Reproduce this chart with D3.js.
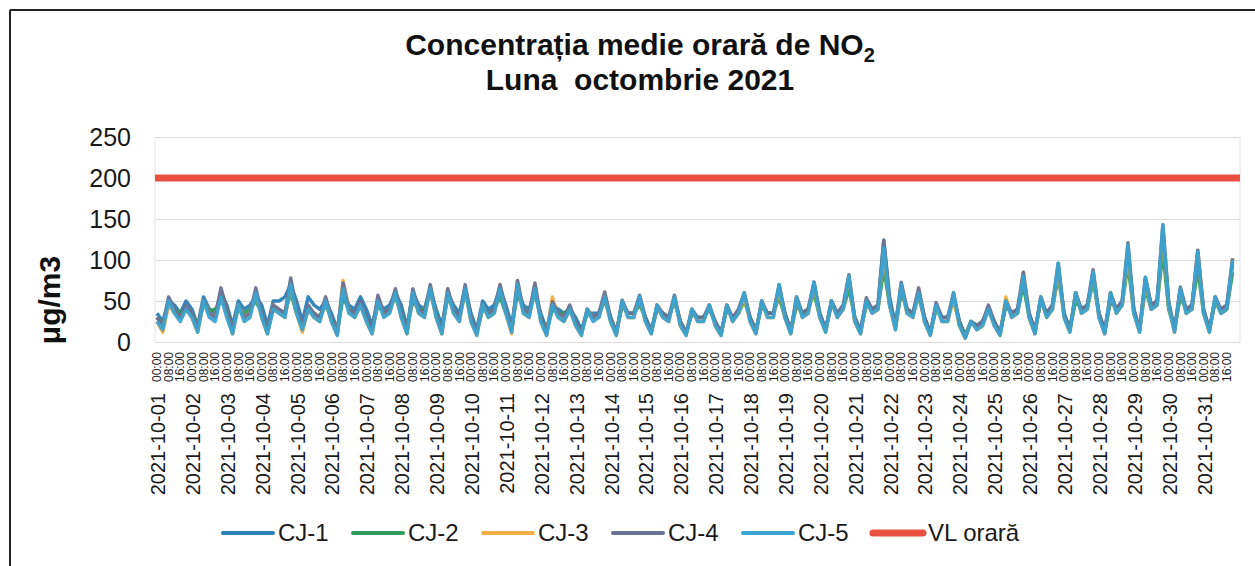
<!DOCTYPE html>
<html>
<head>
<meta charset="utf-8">
<script src="https://cdn.jsdelivr.net/npm/d3@7"></script>
<style>
  body { margin: 0; background: #fff; }
  svg text { font-family: "Liberation Sans", Arial, sans-serif; }
</style>
</head>
<body>
<svg id="chart" width="1255" height="566"></svg>
<script>
// NO2 hourly means, October 2021, every 4 hours (00,04,08,12,16,20)
const sampleHours = [0, 4, 8, 12, 16, 20];
const days = d3.range(1, 32);

const cj1 = [
  35,25,50,45,35,50,  40,20,55,40,35,60,  45,20,50,40,45,55,  45,20,50,50,55,70,
  50,25,55,45,40,50,  35,15,60,45,40,55,  40,20,50,40,45,60,  45,18,60,45,40,65,
  40,20,60,45,35,65,  35,15,50,40,45,65,  45,20,65,45,40,60,  35,15,45,40,35,40,
  30,15,35,35,35,55,  30,12,45,35,35,50,  30,15,40,35,30,50,  25,12,35,30,30,40,
  25,12,40,30,35,55,  30,15,45,35,35,65,  35,15,50,35,40,70,  35,15,50,35,40,75,
  30,15,50,40,45,124, 55,20,65,40,35,60,  30,12,45,30,30,55,  25,8,25,20,25,40,
  25,12,45,35,40,75,  35,15,50,35,45,90,  35,15,55,40,45,80,  35,15,55,40,50,110,
  40,15,75,45,50,130, 45,15,60,40,45,100, 40,15,50,40,45,95
];
const cj2 = [
  30,22,45,40,35,40,  35,20,45,38,40,50,  40,18,40,35,40,50,  35,15,40,38,35,60,
  35,20,40,35,30,45,  30,12,55,40,35,45,  30,15,45,35,40,55,  35,15,50,40,40,60,
  35,15,55,40,30,60,  30,12,40,35,40,55,  35,15,60,40,35,60,  30,12,40,35,35,40,
  25,12,35,30,35,50,  30,12,45,35,35,45,  30,12,40,35,30,50,  25,10,35,30,30,40,
  25,10,40,30,35,50,  30,12,45,35,35,55,  30,12,45,35,40,60,  30,15,45,35,40,65,
  30,12,45,40,40,90,  45,18,60,40,35,55,  30,10,40,30,30,50,  25,8,25,20,25,40,
  25,10,45,35,35,70,  30,12,50,35,40,80,  35,15,50,40,40,75,  35,12,50,40,45,95,
  35,15,65,40,45,110, 40,15,55,40,40,90,  35,15,50,35,40,85
];
const cj3 = [
  25,12,45,35,30,40,  30,12,50,35,30,60,  35,10,45,30,35,60,  30,10,45,35,30,70,
  35,12,40,30,25,50,  25,8,75,40,30,45,   25,10,55,35,35,60,  30,10,60,35,30,65,
  30,10,65,35,25,65,  25,8,45,30,35,70,   35,10,75,35,30,70,  25,8,55,30,25,40,
  20,8,40,30,30,55,   25,8,50,30,30,55,   25,10,45,30,25,55,  20,8,40,25,25,45,
  20,8,45,25,35,55,   25,10,50,30,30,65,  30,10,55,30,35,70,  30,12,50,30,40,80,
  25,10,50,35,40,110, 45,15,70,35,30,60,  25,8,45,25,25,55,   20,5,25,15,20,40,
  20,8,55,30,35,85,   30,10,55,30,40,90,  30,12,60,35,40,85,  30,10,60,35,45,110,
  35,12,75,40,45,135, 45,12,65,35,40,112, 35,12,55,35,40,102
];
const cj4 = [
  30,20,55,40,30,45,  35,18,50,35,30,66,  40,15,45,30,35,66,  35,15,45,40,35,78,
  40,20,45,35,30,55,  30,10,72,40,35,50,  30,15,57,35,40,65,  35,12,65,40,35,70,
  35,15,65,40,30,70,  30,12,45,35,40,70,  40,15,75,40,35,72,  30,10,49,35,30,45,
  25,12,40,30,35,61,  30,10,51,35,35,57,  30,12,45,35,30,57,  25,10,40,30,30,45,
  25,10,45,30,40,60,  30,12,50,35,35,70,  35,12,55,35,40,73,  35,15,50,35,45,82,
  30,12,54,40,45,124, 50,20,73,40,35,66,  30,10,48,30,30,60,  25,5,25,20,25,45,
  25,10,50,35,40,85,  35,12,55,35,45,96,  35,15,60,40,45,88,  35,12,60,40,50,121,
  40,15,79,45,50,143, 50,15,67,40,45,112, 40,15,55,40,45,102
];
const cj5 = [
  25,15,50,35,25,40,  30,12,50,30,25,55,  30,10,45,25,30,60,  30,10,40,35,30,70,
  35,15,40,30,25,50,  25,8,65,35,30,45,   25,10,50,30,35,60,  30,10,60,35,30,65,
  30,10,60,35,25,65,  25,8,45,30,35,65,   35,12,70,35,30,65,  25,8,45,30,25,40,
  20,8,40,25,30,55,   25,8,50,30,30,55,   25,10,45,30,25,55,  20,8,40,25,25,45,
  20,8,45,25,35,60,   25,10,50,30,30,70,  30,10,55,30,35,73,  30,12,50,30,40,80,
  25,10,50,35,40,115, 45,15,70,35,30,60,  25,8,45,25,25,60,   20,5,25,15,20,40,
  20,8,50,30,35,80,   30,10,55,30,40,96,  30,12,60,35,40,85,  30,10,60,35,45,118,
  35,12,79,40,45,143, 45,12,65,35,40,110, 35,12,55,35,40,100
];
const limitValue = 200; // VL orară

const seriesNames = ["CJ-1", "CJ-2", "CJ-3", "CJ-4", "CJ-5"];
const seriesValues = [cj1, cj2, cj3, cj4, cj5];
const seriesColors = ["#2a80b6", "#2f9c5b", "#f3ad45", "#6a7192", "#3ba3cf"];
const limitColor = "#e8503f";
const yTicks = [0, 50, 100, 150, 200, 250];

// category timestamps
const times = [];
days.forEach(d => sampleHours.forEach(h => times.push(new Date(2021, 9, d, h))));
const dayStarts = d3.timeDay.range(new Date(2021, 9, 1), new Date(2021, 10, 1));
const labelHours = d3.timeHour.every(8).range(new Date(2021, 9, 1), new Date(2021, 10, 1));

const svg = d3.select("#chart");

// frame of the scanned figure
svg.append("line").attr("x1", 10).attr("x2", 10).attr("y1", 10).attr("y2", 566)
  .attr("stroke", "#222").attr("stroke-width", 2);
svg.append("line").attr("x1", 10).attr("x2", 1255).attr("y1", 10).attr("y2", 10)
  .attr("stroke", "#222").attr("stroke-width", 2);

const plot = { left: 155, right: 1240, top: 137, bottom: 342 };

const x = d3.scaleTime()
  .domain([new Date(2021, 9, 1, 0), new Date(2021, 9, 31, 23)])
  .range([plot.left + 2, plot.right - 3]);

const y = d3.scaleLinear().domain([0, 250]).range([plot.bottom, plot.top]);

// gridlines
svg.append("g")
  .attr("transform", `translate(${plot.left},0)`)
  .call(d3.axisLeft(y).tickValues(yTicks).tickSize(-(plot.right - plot.left)).tickFormat(""))
  .call(g => g.select(".domain").remove())
  .selectAll("line").attr("stroke", "#dcdcdc").attr("stroke-width", 1);

svg.append("line").attr("x1", plot.left).attr("x2", plot.left)
  .attr("y1", plot.top).attr("y2", plot.bottom).attr("stroke", "#e4e4e4");
svg.append("line").attr("x1", plot.right).attr("x2", plot.right)
  .attr("y1", plot.top).attr("y2", plot.bottom).attr("stroke", "#e4e4e4");

// y axis labels
svg.append("g")
  .attr("transform", `translate(${plot.left},0)`)
  .call(d3.axisLeft(y).tickValues(yTicks).tickSize(0).tickPadding(24))
  .call(g => g.select(".domain").remove())
  .selectAll("text")
  .attr("font-size", 25).attr("fill", "#1a1a1a")
  .style("font-family", "'Liberation Sans', Arial, sans-serif");

svg.append("text")
  .attr("transform", "translate(60,300) rotate(-90)")
  .attr("text-anchor", "middle")
  .attr("font-size", 30).attr("font-weight", "bold").attr("fill", "#111")
  .text("μg/m3");

// x axis labels: small hour labels and day labels
svg.append("g").selectAll("text")
  .data(labelHours)
  .join("text")
  .attr("transform", d => `translate(${x(d)},352) rotate(-90)`)
  .attr("text-anchor", "end").attr("dy", "0.35em")
  .attr("font-size", 12).attr("fill", "#1a1a1a")
  .text(d3.timeFormat("%H:%M"));

svg.append("g").selectAll("text")
  .data(dayStarts)
  .join("text")
  .attr("transform", d => `translate(${x(d) + 1},393) rotate(-90)`)
  .attr("text-anchor", "end").attr("dy", "0.35em")
  .attr("font-size", 20).attr("fill", "#1a1a1a")
  .text(d3.timeFormat("%Y-%m-%d"));

// limit line
svg.append("line")
  .attr("x1", plot.left).attr("x2", plot.right)
  .attr("y1", y(limitValue)).attr("y2", y(limitValue))
  .attr("stroke", limitColor).attr("stroke-width", 7);

// series lines
const line = d3.line().x((d, i) => x(times[i])).y(d => y(d));
svg.append("g").selectAll("path")
  .data(seriesValues)
  .join("path")
  .attr("d", d => line(d))
  .attr("fill", "none")
  .attr("stroke", (d, i) => seriesColors[i])
  .attr("stroke-width", 3.5)
  .attr("stroke-linejoin", "round")
  .attr("opacity", 0.95);

// title
const title = svg.append("text")
  .attr("x", 640).attr("y", 55)
  .attr("text-anchor", "middle")
  .attr("font-size", 30).attr("font-weight", "bold").attr("fill", "#111");
title.append("tspan").text("Concentrația medie orară de NO");
title.append("tspan").attr("font-size", 20).attr("dy", 7).text("2");
svg.append("text")
  .attr("x", 640).attr("y", 90)
  .attr("text-anchor", "middle")
  .attr("font-size", 30).attr("font-weight", "bold").attr("fill", "#111")
  .attr("xml:space", "preserve")
  .text("Luna  octombrie 2021");

// legend
const legendItems = seriesNames.map((n, i) => ({ name: n, color: seriesColors[i], w: 4 }))
  .concat([{ name: "VL orară", color: limitColor, w: 7 }]);
const legend = svg.append("g").selectAll("g")
  .data(legendItems)
  .join("g")
  .attr("transform", (d, i) => `translate(${223 + i * 130},533)`);
legend.append("line")
  .attr("x1", 0).attr("x2", 50)
  .attr("stroke", d => d.color).attr("stroke-width", d => d.w)
  .attr("stroke-linecap", "round");
legend.append("text")
  .attr("x", 55).attr("dy", "0.35em")
  .attr("font-size", 24).attr("fill", "#1a1a1a")
  .text(d => d.name);
</script>
</body>
</html>
